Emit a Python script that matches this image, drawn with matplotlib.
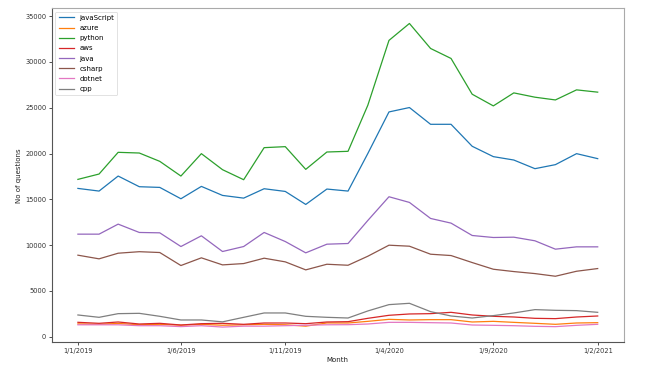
import matplotlib
matplotlib.use("Agg")
import matplotlib.pyplot as plt
import matplotlib.dates as mdates
from matplotlib.ticker import FuncFormatter
import pandas as pd

months = pd.date_range("2019-01-01", periods=26, freq="MS")

javascript = [16190, 15900, 17540, 16375, 16300, 15060, 16410, 15425, 15130, 16155, 15860, 14440, 16120,
              15900, 20000, 24540, 25020, 23190, 23190, 20790, 19660, 19290, 18345, 18785, 19985, 19440]
azure = [1400, 1350, 1450, 1300, 1350, 1250, 1350, 1250, 1300, 1350, 1300, 1150, 1500,
         1495, 1675, 1895, 1825, 1860, 1860, 1605, 1675, 1565, 1460, 1350, 1495, 1530]
python = [17176, 17760, 20130, 20055, 19145, 17540, 19985, 18235, 17140, 20640, 20750, 18270, 20165,
          20240, 25270, 32350, 34200, 31470, 30380, 26475, 25200, 26620, 26150, 25850, 26950, 26700]
aws = [1570, 1460, 1605, 1385, 1460, 1275, 1420, 1460, 1350, 1495, 1495, 1420, 1605,
       1640, 2005, 2335, 2480, 2515, 2660, 2370, 2225, 2150, 2005, 1970, 2150, 2260]
java = [11195, 11195, 12290, 11380, 11340, 9845, 11015, 9300, 9845, 11380, 10390, 9155, 10100,
        10175, 12690, 15280, 14660, 12910, 12400, 11050, 10830, 10865, 10470, 9555, 9810, 9810]
csharp = [8900, 8500, 9115, 9280, 9190, 7770, 8610, 7840, 7985, 8570, 8170, 7295, 7910,
          7800, 8785, 9990, 9880, 9005, 8860, 8095, 7365, 7110, 6890, 6600, 7145, 7440]
dotnet = [1300, 1300, 1300, 1200, 1200, 1100, 1200, 1050, 1150, 1150, 1200, 1250, 1300,
          1310, 1385, 1565, 1565, 1530, 1495, 1275, 1240, 1200, 1130, 1095, 1240, 1350]
cpp = [2370, 2115, 2515, 2550, 2225, 1825, 1825, 1620, 2115, 2590, 2590, 2225, 2115,
       2040, 2810, 3500, 3645, 2735, 2260, 2040, 2300, 2590, 2955, 2880, 2845, 2660]

series = [("javaScript", javascript), ("azure", azure), ("python", python), ("aws", aws),
          ("java", java), ("csharp", csharp), ("dotnet", dotnet), ("cpp", cpp)]
colors = ["#1f77b4", "#ff7f0e", "#2ca02c", "#d62728", "#9467bd", "#8c564b", "#e377c2", "#7f7f7f"]

fig = plt.figure(figsize=(6.49, 3.70), dpi=100)
ax = fig.add_axes([0.080, 0.075, 0.881, 0.9026])

for (name, vals), c in zip(series, colors):
    ax.plot(months, vals, color=c, linewidth=0.9, label=name)

ax.set_yticks([0, 5000, 10000, 15000, 20000, 25000, 30000, 35000])

tick_dates = pd.date_range("2019-01-01", periods=6, freq="5MS")
ax.set_xticks(tick_dates)

def fmt(x, pos=None):
    d = mdates.num2date(x)
    return f"{d.day}/{d.month}/{d.year}"

ax.xaxis.set_major_formatter(FuncFormatter(fmt))

ax.tick_params(labelsize=4.8, length=2, width=0.6, pad=2, colors="#333333")
ax.set_xlabel("Month", fontsize=5, labelpad=2, color="#222222")
ax.set_ylabel("No of questions", fontsize=5, labelpad=2, color="#222222")

for s in ["left", "bottom"]:
    ax.spines[s].set_color("#555555")
    ax.spines[s].set_linewidth(0.8)
for s in ["top", "right"]:
    ax.spines[s].set_color("#aaaaaa")
    ax.spines[s].set_linewidth(0.8)

leg = ax.legend(loc="upper left", fontsize=5, handlelength=2.2, borderpad=0.45,
                labelspacing=0.6, frameon=True, fancybox=True)
leg.get_frame().set_linewidth(0.5)

fig.savefig("out.png", dpi=100)
